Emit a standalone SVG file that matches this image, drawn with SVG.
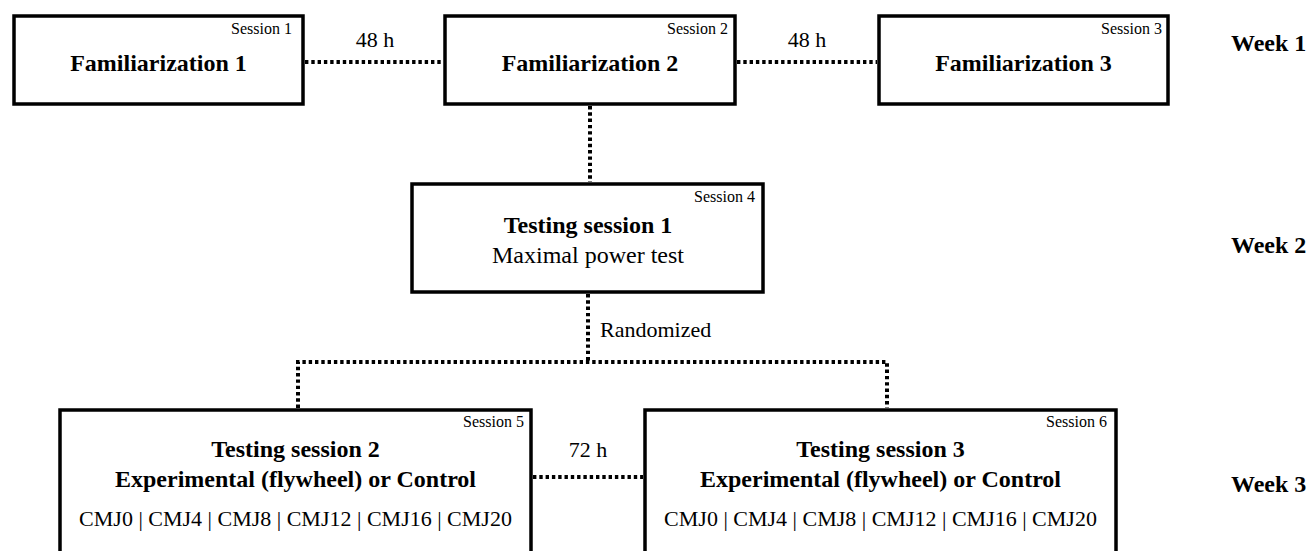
<svg xmlns="http://www.w3.org/2000/svg" width="1308" height="551" viewBox="0 0 1308 551">
<style>
  .box { fill: #fff; stroke: #000; stroke-width: 3.5; }
  .conn { fill: none; stroke: #000; stroke-width: 4; stroke-dasharray: 3.4 2.9; }
  text { font-family: "Liberation Serif", "Times New Roman", serif; fill: #000; }
  .title { font-size: 24px; font-weight: bold; text-anchor: middle; }
  .sub { font-size: 24px; text-anchor: middle; }
  .cmj { font-size: 22px; text-anchor: middle; }
  .sess { font-size: 16px; text-anchor: end; }
  .lbl { font-size: 22px; text-anchor: middle; }
  .week { font-size: 24px; font-weight: bold; }
</style>
<rect width="1308" height="551" fill="#fff"/>
<g id="connectors">
  <line class="conn" x1="305" y1="62" x2="443" y2="62"/>
  <line class="conn" x1="737" y1="62" x2="877" y2="62"/>
  <line class="conn" x1="590" y1="106" x2="590" y2="182"/>
  <polyline class="conn" points="588,294 588,362"/>
  <polyline class="conn" points="298,408 298,362 887,362 887,408"/>
  <line class="conn" x1="533" y1="477" x2="643" y2="477"/>
  <text class="lbl" x="375" y="47">48 h</text>
  <text class="lbl" x="807" y="47">48 h</text>
  <text x="600" y="337" font-size="22">Randomized</text>
  <text class="lbl" x="588" y="457">72 h</text>
</g>
<g id="session1">
  <rect class="box" x="14" y="16" width="289" height="88"/>
  <text class="sess" x="292" y="34">Session 1</text>
  <text class="title" x="158.5" y="71">Familiarization 1</text>
</g>
<g id="session2">
  <rect class="box" x="445" y="16" width="290" height="88"/>
  <text class="sess" x="728" y="34">Session 2</text>
  <text class="title" x="590" y="71">Familiarization 2</text>
</g>
<g id="session3">
  <rect class="box" x="879" y="16" width="289" height="88"/>
  <text class="sess" x="1162" y="34">Session 3</text>
  <text class="title" x="1023.5" y="71">Familiarization 3</text>
</g>
<g id="session4">
  <rect class="box" x="412" y="184" width="351" height="108"/>
  <text class="sess" x="755" y="202">Session 4</text>
  <text class="title" x="588" y="233">Testing session 1</text>
  <text class="sub" x="588" y="263">Maximal power test</text>
</g>
<g id="session5">
  <rect class="box" x="60" y="410" width="471" height="170"/>
  <text class="sess" x="524" y="427">Session 5</text>
  <text class="title" x="295.5" y="457">Testing session 2</text>
  <text class="title" x="295.5" y="487">Experimental (flywheel) or Control</text>
  <text class="cmj" x="295.5" y="526">CMJ0 | CMJ4 | CMJ8 | CMJ12 | CMJ16 | CMJ20</text>
</g>
<g id="session6">
  <rect class="box" x="645" y="410" width="471" height="170"/>
  <text class="sess" x="1107" y="427">Session 6</text>
  <text class="title" x="880.5" y="457">Testing session 3</text>
  <text class="title" x="880.5" y="487">Experimental (flywheel) or Control</text>
  <text class="cmj" x="880.5" y="526">CMJ0 | CMJ4 | CMJ8 | CMJ12 | CMJ16 | CMJ20</text>
</g>
<g id="weeks">
  <text class="week" x="1231" y="51">Week 1</text>
  <text class="week" x="1231" y="253">Week 2</text>
  <text class="week" x="1231" y="492">Week 3</text>
</g>
</svg>
